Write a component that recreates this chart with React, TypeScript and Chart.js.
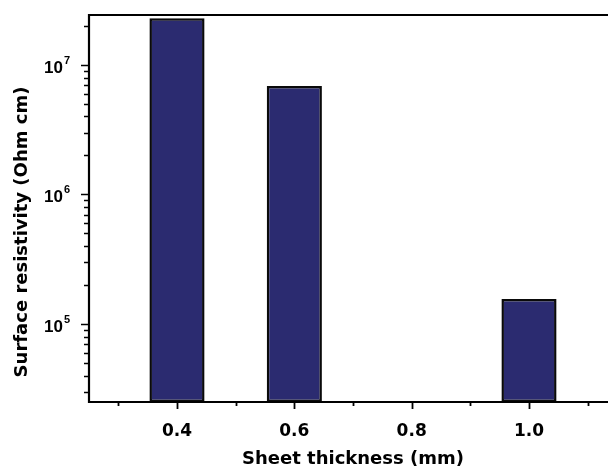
import React, { useEffect, useRef } from "react";
import { Chart, registerables } from "chart.js";

Chart.register(...registerables);

// ---- data ----
const thickness = [0.4, 0.6, 1.0];
const resistivity = [2.29e7, 6.89e6, 1.56e5];
const xTickValues = [0.4, 0.6, 0.8, 1.0];
const xMinorTickValues = [0.3, 0.5, 0.7, 0.9, 1.1];
const yTickValues = [1e5, 1e6, 1e7];
const yTickBase = ["10", "10", "10"];
const yTickExp = ["5", "6", "7"];
const xTitle = "Sheet thickness (mm)";
const yTitle = "Surface resistivity (Ohm cm)";

const axesPlugin = {
  id: "originAxes",
  afterDraw(chart: any) {
    const ctx = chart.ctx;
    const { left, right, top, bottom } = chart.chartArea;
    const xs = chart.scales.x;
    const ys = chart.scales.y;
    ctx.save();
    ctx.strokeStyle = "#000";
    ctx.fillStyle = "#000";
    // y ticks (log, major + minor)
    ctx.lineWidth = 1.5;
    for (let d = 4; d <= 7; d++) {
      for (let k = 1; k <= 9; k++) {
        const v = k * Math.pow(10, d);
        if (v < ys.min || v > ys.max) continue;
        const y = Math.round(ys.getPixelForValue(v)) + 0.5;
        const len = k === 1 ? 8 : 5;
        ctx.beginPath();
        ctx.moveTo(left - len, y);
        ctx.lineTo(left, y);
        ctx.stroke();
      }
    }
    // x ticks
    const drawX = (vals: number[], len: number) => {
      vals.forEach((v) => {
        const x = Math.round(xs.getPixelForValue(v)) + 0.5;
        ctx.beginPath();
        ctx.moveTo(x, bottom);
        ctx.lineTo(x, bottom + len);
        ctx.stroke();
      });
    };
    ctx.lineWidth = 1.8;
    drawX(xTickValues, 7);
    drawX(xMinorTickValues, 4);
    // axis frame (left, bottom, top)
    ctx.lineWidth = 2.2;
    ctx.beginPath();
    ctx.moveTo(right + 10, top);
    ctx.lineTo(left, top);
    ctx.lineTo(left, bottom);
    ctx.lineTo(right + 10, bottom);
    ctx.stroke();
    // y tick labels with superscript exponents
    yTickValues.forEach((v, i) => {
      const y = ys.getPixelForValue(v);
      ctx.font = "bold 17px 'Liberation Sans', Arial, sans-serif";
      ctx.textAlign = "right";
      ctx.textBaseline = "alphabetic";
      ctx.fillText(yTickBase[i], left - 26, y + 8);
      ctx.font = "bold 11px 'Liberation Sans', Arial, sans-serif";
      ctx.textAlign = "left";
      ctx.fillText(yTickExp[i], left - 25, y - 1);
    });
    // y title
    ctx.translate(22, 232);
    ctx.rotate(-Math.PI / 2);
    ctx.font = "bold 18px 'DejaVu Sans', sans-serif";
    ctx.textAlign = "center";
    ctx.textBaseline = "middle";
    ctx.fillText(yTitle, 0, 0);
    ctx.restore();
  },
};

export default function App() {
  const ref = useRef<HTMLCanvasElement | null>(null);
  useEffect(() => {
    if (!ref.current) return;
    const chart = new Chart(ref.current, {
      type: "bar",
      data: {
        datasets: [
          {
            data: thickness.map((t, i) => ({ x: t, y: resistivity[i] })),
            backgroundColor: "#2b2b70",
            borderColor: "#0a0a0a",
            borderWidth: 2.5,
            borderSkipped: false,
            barPercentage: 0.47,
            categoryPercentage: 1,
          },
        ],
      },
      options: {
        animation: false,
        responsive: false,
        layout: { padding: { top: 15, right: 23, left: 0, bottom: 0 } },
        plugins: { legend: { display: false }, tooltip: { enabled: false } },
        scales: {
          x: {
            type: "linear",
            min: 0.25,
            max: 1.15,
            offset: false,
            grid: { display: false },
            border: { display: false },
            afterBuildTicks: (s: any) => {
              s.ticks = xTickValues.map((v) => ({ value: v }));
            },
            afterFit: (s: any) => {
              s.height = 68;
            },
            ticks: {
              autoSkip: false,
              maxRotation: 0,
              padding: 11,
              color: "#000",
              font: { family: "'DejaVu Sans', sans-serif", weight: "bold", size: 17 },
              callback: (v: any) => Number(v).toFixed(1),
            },
            title: {
              display: true,
              text: xTitle,
              color: "#000",
              padding: 0,
              font: { family: "'DejaVu Sans', sans-serif", weight: "bold", size: 18 },
            },
          },
          y: {
            type: "logarithmic",
            min: 2.5e4,
            max: 2.43e7,
            grid: { display: false },
            border: { display: false },
            ticks: { display: false },
            afterFit: (s: any) => {
              s.width = 89;
            },
          },
        },
      },
      plugins: [axesPlugin],
    } as any);
    return () => chart.destroy();
  }, []);
  return (
    <div
      style={{
        position: "fixed",
        left: 0,
        top: 0,
        width: 608,
        height: 466,
        overflow: "hidden",
        background: "#fff",
      }}
    >
      <canvas ref={ref} width={640} height={470} style={{ display: "block" }} />
    </div>
  );
}
